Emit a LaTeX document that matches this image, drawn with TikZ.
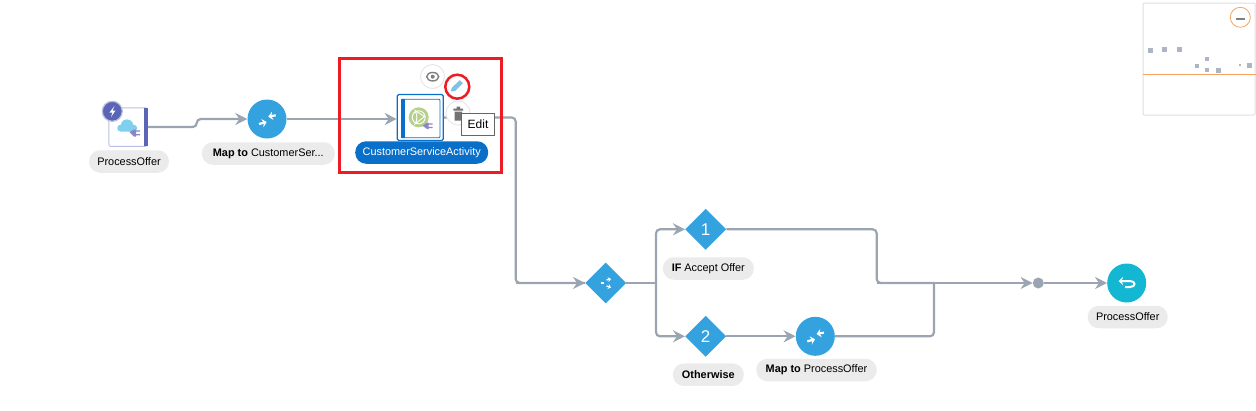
\documentclass[tikz,border=0pt]{standalone}
\usepackage{fontspec}
\setmainfont{Liberation Sans}
\usetikzlibrary{arrows.meta,shapes.geometric}
\definecolor{wireGray}{HTML}{9AA5B1}
\definecolor{flowBlue}{HTML}{34A2DF}
\definecolor{pillGray}{HTML}{EBEBEB}
\definecolor{selectBlue}{HTML}{0A6FC9}
\definecolor{returnTeal}{HTML}{14B7D2}
\definecolor{barBlue}{HTML}{5A66B5}
\definecolor{paleBar}{HTML}{B9C0E2}
\definecolor{plugPurple}{HTML}{8A86C8}
\definecolor{globeGreen}{HTML}{B5D08A}
\definecolor{cloudBlue}{HTML}{7FD0EE}
\definecolor{markRed}{HTML}{ED1C24}
\definecolor{mapOrange}{HTML}{F4A460}
\definecolor{mapSquare}{HTML}{ADB5C2}
\tikzset{
  wire/.style={draw=wireGray,line width=2.2pt,rounded corners=4pt},
  flow/.style={wire,-{Stealth[length=12pt,width=12pt,inset=4pt]}},
  pill/.style={fill=pillGray,rounded corners=11pt,minimum height=22.5pt,inner sep=0pt,font=\fontsize{10.9}{12}\selectfont},
  mapper/.style={circle,fill=flowBlue,minimum size=39pt,inner sep=0pt},
  choice/.style={diamond,fill=flowBlue,minimum size=41pt,inner sep=0pt,text=white,font=\fontsize{17}{20}\selectfont},
  hover/.style={circle,fill=white,draw=black!9,line width=1pt,minimum size=24pt,inner sep=0pt},
  glyph/.style={draw=white,line width=2.2pt,-{Stealth[length=4.5pt,width=8.5pt]}},
  dot/.style={fill=mapSquare,minimum size=#1,inner sep=0pt}
}
\begin{document}
\begin{tikzpicture}[x=1pt,y=-1pt]
  \useasboundingbox (0,0) rectangle (1256,410);

  % flow nodes
  \node[draw=paleBar,line width=1pt,rounded corners=1.5pt,minimum size=38.5pt,inner sep=0pt] (trigger) at (128,127) {};
  \node[mapper] (mapCustomer) at (267,119) {};
  \node[draw=selectBlue,line width=1.2pt,rounded corners=1.5pt,minimum size=46pt,inner sep=0pt] (activity) at (420.3,117.5) {};
  \node[choice] (split) at (605.7,283) {};
  \node[choice] (caseOne) at (705.7,229.3) {1};
  \node[choice] (caseTwo) at (705.7,336.3) {2};
  \node[mapper] (mapProcess) at (815.3,336.3) {};
  \node[circle,fill=wireGray,minimum size=11pt,inner sep=0pt] (merge) at (1038.3,283) {};
  \node[mapper,fill=returnTeal] (reply) at (1126.7,283) {};

  % labels
  \node[pill,minimum width=80pt] (triggerLabel) at (129,161.5) {ProcessOffer};
  \node[pill,minimum width=133pt] (mapCustomerLabel) at (268.3,153.5) {\textbf{Map to} CustomerSer...};
  \node[pill,minimum width=133pt,fill=selectBlue,text=white] (activityLabel) at (421.7,152.5) {CustomerServiceActivity};
  \node[pill,minimum width=91pt] (caseOneLabel) at (708.3,268.5) {\textbf{IF} Accept Offer};
  \node[pill,minimum width=71pt] (caseTwoLabel) at (708.3,374.7) {\textbf{Otherwise}};
  \node[pill,minimum width=120.5pt] (mapProcessLabel) at (816.5,370) {\textbf{Map to} ProcessOffer};
  \node[pill,minimum width=80pt] (replyLabel) at (1127.7,317) {ProcessOffer};

  % connectors
  \coordinate (bendDown) at (515.7,283);
  \coordinate (fork) at (656,283);
  \coordinate (joinOne) at (876.7,283);
  \coordinate (joinTwo) at (934,283);
  \draw[flow] (trigger.east) -- ++(49,0) |- (mapCustomer.west);
  \draw[flow] (mapCustomer.east) -- (mapCustomer.east -| activity.west);
  \draw[wire] (activity.east) -| (bendDown) -- (split.west);
  \draw[flow] (bendDown) -- (split.west);
  \draw[wire] (split.east) -- (fork);
  \draw[flow] (fork) |- (caseOne.west);
  \draw[flow] (fork) |- (caseTwo.west);
  \draw[flow] (caseTwo.east) -- (mapProcess.west);
  \draw[wire] (caseOne.east) -| (joinOne) -- (joinTwo);
  \draw[wire] (mapProcess.east) -| (joinTwo);
  \draw[flow] (joinOne) -- (merge.west);
  \draw[flow] (merge.east) -- (reply.west);

  % trigger icon
  \fill[barBlue] (144,107.8) rectangle (147.7,146.2);
  \fill[cloudBlue] (121,131.7) .. controls (116,131.7) and (116,124.5) .. (121,124.5) .. controls (122,117.5) and (132,117.5) .. (133,124.5) .. controls (138.5,124.5) and (138.5,131.7) .. (133,131.7) -- cycle;
  \fill[plugPurple] (129.5,132) -- (134,129.5) -- (136,129.5) -- (136,136.5) -- (134,136.5) -- cycle (136,130.3) rectangle (140,131.6) (136,134) rectangle (140,135.3);

  \node[circle,fill=barBlue,draw=paleBar,line width=1.2pt,minimum size=20pt,inner sep=0pt] (triggerBadge) at (112.3,111.3) {};
  \fill[white] (114.5,106) -- (109.5,112.5) -- (112.5,112.5) -- (111,117) -- (115.5,110.5) -- (112.5,110.5) -- cycle;

  % activity icon
  \node[draw=selectBlue,line width=.8pt,rounded corners=1pt,minimum size=38.5pt,inner sep=0pt] (activityInner) at (420.7,118.5) {};
  \fill[selectBlue] (401.3,99.3) rectangle (405,137.7);
  \node[circle,fill=globeGreen,minimum size=20pt,inner sep=0pt] (globe) at (418.7,117.3) {};
  \draw[white,line width=.9pt] (globe.center) circle (6.5);
  \draw[white,line width=.9pt] (415,110.5) .. controls (417.5,115) and (417.5,120) .. (415,124) -- (424.5,116.5) -- cycle;
  \fill[plugPurple] (422.5,125.7) -- (427,122.7) -- (428.7,122.7) -- (428.7,129) -- (427,129) -- cycle (428.7,123.3) rectangle (432.5,124.6) (428.7,126.9) rectangle (432.5,128.2);

  % mapper glyphs
  \foreach \spot in {mapCustomer,mapProcess}{
    \draw[glyph] ([shift={(-8,5)}]\spot.center) -- ([shift={(-.3,3)}]\spot.center);
    \draw[glyph] ([shift={(8.7,-3.7)}]\spot.center) -- ([shift={(1.3,-2.3)}]\spot.center);
  }
  \draw[white,line width=1.4pt] (600.7,283) -- (604,283);
  \draw[glyph,line width=1.3pt,-{Stealth[length=3pt,width=5pt]}] (606.5,280) -- (611,279);
  \draw[glyph,line width=1.3pt,-{Stealth[length=3pt,width=5pt]}] (606.5,286) -- (611,287.5);
  \draw[glyph,line width=2pt,-{Stealth[length=4.5pt,width=8pt]}] (1125,287) -- (1130,287) .. controls (1136,287) and (1136,281) .. (1130,281) -- (1118.5,281);

  % highlight and hover buttons
  \node[draw=markRed,line width=3pt,minimum width=161.4pt,minimum height=114.3pt,inner sep=0pt] (focusBox) at (420.5,115.3) {};
  \node[hover] (viewButton) at (432.5,76.5) {};
  \node[hover] (deleteButton) at (458,113) {};
  \node[circle,draw=markRed,line width=2.5pt,fill=white,minimum size=24pt,inner sep=0pt] (editButton) at (457.3,86.7) {};
  \node[ellipse,draw=black!50,line width=1.4pt,minimum width=12pt,minimum height=8.5pt,inner sep=0pt] (eyeIcon) at (432.7,76.7) {};
  \fill[black!50] (eyeIcon.center) circle (2);
  \fill[flowBlue!65] (450.8,91.5) -- (451.8,87.7) -- (459.8,80.2) -- (463,83.2) -- (455,91) -- cycle;
  \fill[black!55] (454.5,111.5) rectangle (462,120.5) (453.3,108.5) rectangle (463,110.5) (456.5,106.7) rectangle (460,108.5);
  \node[draw=black!60,fill=white,line width=.8pt,minimum width=32.6pt,minimum height=22pt,inner sep=0pt,font=\fontsize{12}{14}\selectfont] (editTip) at (478,124.3) {Edit};

  % minimap
  \node[draw=black!13,line width=1pt,rounded corners=1pt,minimum width=112pt,minimum height=112pt,inner sep=0pt] (minimap) at (1199,59) {};
  \draw[mapOrange,line width=1pt] (minimap.west |- 0,74) -- (minimap.east |- 0,74);
  \node[circle,draw=mapOrange,line width=.8pt,fill=white,minimum size=20pt,inner sep=0pt] (zoomOut) at (1240.3,17.3) {};
  \draw[black!50,line width=1.7pt] (1236,19) -- (1245,19);
  \node[dot=5pt] (miniA) at (1150,50) {};
  \node[dot=5pt] (miniB) at (1164,49) {};
  \node[dot=5pt] (miniC) at (1179,49) {};
  \node[dot=4pt] (miniD) at (1197,66) {};
  \node[dot=4pt] (miniE) at (1207,59) {};
  \node[dot=4pt] (miniF) at (1207,70) {};
  \node[dot=5pt] (miniG) at (1218,70) {};
  \node[dot=1.5pt] (miniH) at (1240,65) {};
  \node[dot=5pt] (miniI) at (1249,65) {};
\end{tikzpicture}
\end{document}
